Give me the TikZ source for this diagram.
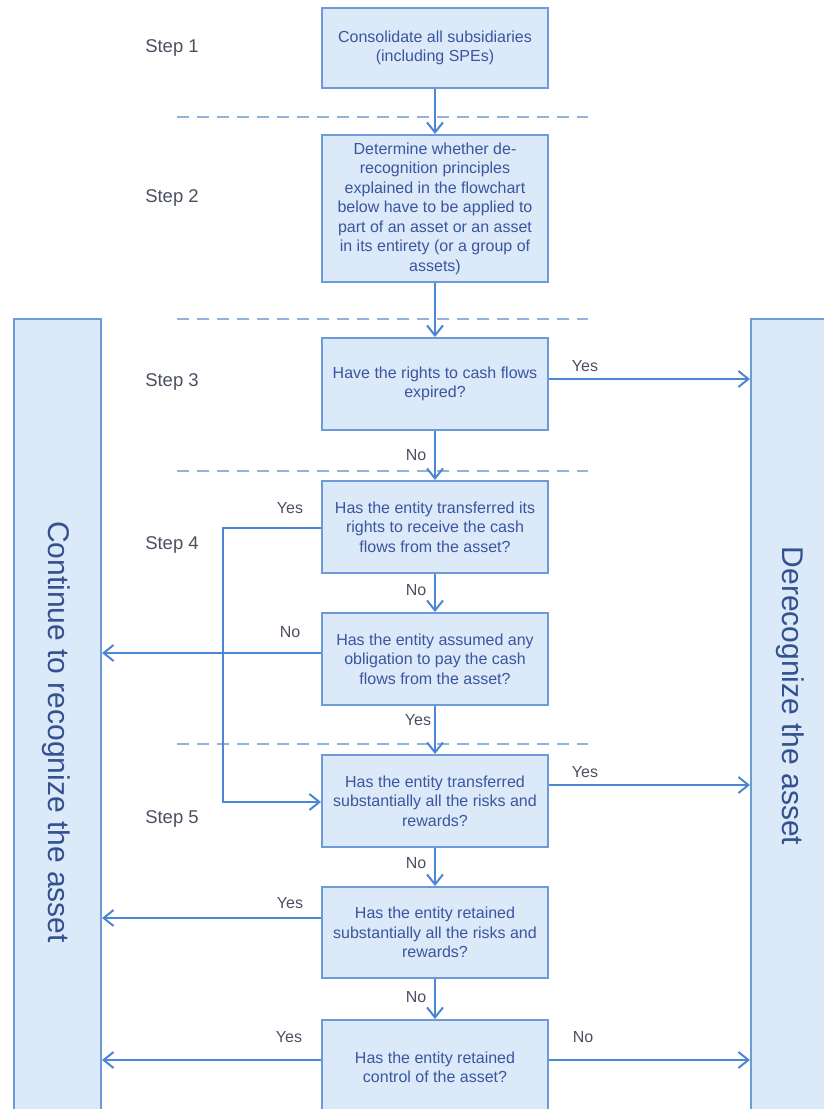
\documentclass[tikz,border=0pt]{standalone}
\usepackage{fontspec}
\setmainfont{Liberation Sans}
\usetikzlibrary{arrows.meta}
\definecolor{boxfill}{HTML}{DCE9F8}
\definecolor{boxline}{HTML}{6C9BD8}
\definecolor{arrowblue}{HTML}{4C86D4}
\definecolor{dashblue}{HTML}{93B3DB}
\definecolor{boxtext}{HTML}{3B55A0}
\definecolor{labelgray}{HTML}{4A5060}
\definecolor{bigtext}{HTML}{33508F}

\begin{document}
\begin{tikzpicture}[x=1pt,y=-1pt,
  flowbox/.style={draw=boxline, fill=boxfill, line width=2pt, minimum width=226pt,
    inner sep=0pt, align=center, text=boxtext, font=\fontsize{16}{19.5}\selectfont},
  outcome/.style={draw=boxline, fill=boxfill, line width=2pt, inner sep=0pt, anchor=north west},
  bigtitle/.style={rotate=-90, text=bigtext, font=\fontsize{30}{36}\selectfont},
  steplabel/.style={text=labelgray, font=\fontsize{18.5}{22}\selectfont},
  answer/.style={text=labelgray, font=\fontsize{16}{19}\selectfont, inner sep=0pt},
  arr/.style={draw=arrowblue, line width=2pt,
    -{Straight Barb[length=10pt,width=16pt,line width=2pt]}},
  sep/.style={draw=dashblue, line width=2pt, dash pattern=on 12pt off 8pt},
]
\clip (0,0) rectangle (824,1109);

% outcome columns
\node[outcome, minimum width=87pt, minimum height=800pt] (keep) at (13,318) {};
\node[outcome, minimum width=100pt, minimum height=800pt] (derec) at (750,318) {};
\node[bigtitle] (keeptext) at (56,732) {Continue to recognize the asset};
\node[bigtitle] (derectext) at (790,696) {Derecognize the asset};

% step separators
\foreach \y in {117,319,471,744}
  \draw[sep] (177,\y) -- (588,\y);

% step labels
\node[steplabel] (s1) at (172,48) {Step 1};
\node[steplabel] (s2) at (172,198) {Step 2};
\node[steplabel] (s3) at (172,382) {Step 3};
\node[steplabel] (s4) at (172,545) {Step 4};
\node[steplabel] (s5) at (172,819) {Step 5};

% decision boxes
\node[flowbox, minimum height=80pt] (b1) at (435,48)
  {Consolidate all subsidiaries\\(including SPEs)};
\node[flowbox, minimum height=147pt] (b2) at (435,208.5)
  {Determine whether de-\\recognition principles\\explained in the flowchart\\below have to be applied to\\part of an asset or an asset\\in its entirety (or a group of\\assets)};
\node[flowbox, minimum height=92pt] (b3) at (435,384)
  {Have the rights to cash flows\\expired?};
\node[flowbox, minimum height=92pt] (b4a) at (435,527)
  {Has the entity transferred its\\rights to receive the cash\\flows from the asset?};
\node[flowbox, minimum height=92pt] (b4b) at (435,659)
  {Has the entity assumed any\\obligation to pay the cash\\flows from the asset?};
\node[flowbox, minimum height=92pt] (b5a) at (435,801)
  {Has the entity transferred\\substantially all the risks and\\rewards?};
\node[flowbox, minimum height=91pt] (b5b) at (435,932.5)
  {Has the entity retained\\substantially all the risks and\\rewards?};
\node[flowbox, minimum height=95pt] (b6) at (435,1067.5)
  {Has the entity retained\\control of the asset?};

\coordinate (jog) at (223,0);

% main flow
\draw[arr] (b1) -- (b2);
\draw[arr] (b2) -- (b3);
\draw[arr] (b3) -- (b4a);
\draw[arr] (b4a) -- (b4b);
\draw[arr] (b4b) -- (b5a);
\draw[arr] (b5a) -- (b5b);
\draw[arr] (b5b) -- (b6);

% branches
\draw[arr] ([yshift=5pt]b3.east) -- ([yshift=5pt]b3.east -| derec.west);
\draw[arr] ([yshift=-1pt]b4a.west) -- ([yshift=-1pt]b4a.west -| jog) |- ([yshift=-1pt]b5a.west);
\draw[arr] ([yshift=6pt]b4b.west) -- ([yshift=6pt]b4b.west -| keep.east);
\draw[arr] ([yshift=16pt]b5a.east) -- ([yshift=16pt]b5a.east -| derec.west);
\draw[arr] ([yshift=14.5pt]b5b.west) -- ([yshift=14.5pt]b5b.west -| keep.east);
\draw[arr] ([yshift=7.5pt]b6.west) -- ([yshift=7.5pt]b6.west -| keep.east);
\draw[arr] ([yshift=7.5pt]b6.east) -- ([yshift=7.5pt]b6.east -| derec.west);

% answers
\node[answer] (yes3) at (585,366) {Yes};
\node[answer] (no3) at (416,455) {No};
\node[answer] (yes4a) at (290,508) {Yes};
\node[answer] (no4a) at (416,590) {No};
\node[answer] (no4b) at (290,632) {No};
\node[answer] (yes4b) at (418,720) {Yes};
\node[answer] (yes5a) at (585,772) {Yes};
\node[answer] (no5a) at (416,863) {No};
\node[answer] (yes5b) at (290,903) {Yes};
\node[answer] (no5b) at (416,997) {No};
\node[answer] (yes6) at (289,1037) {Yes};
\node[answer] (no6) at (583,1037) {No};
\end{tikzpicture}
\end{document}
